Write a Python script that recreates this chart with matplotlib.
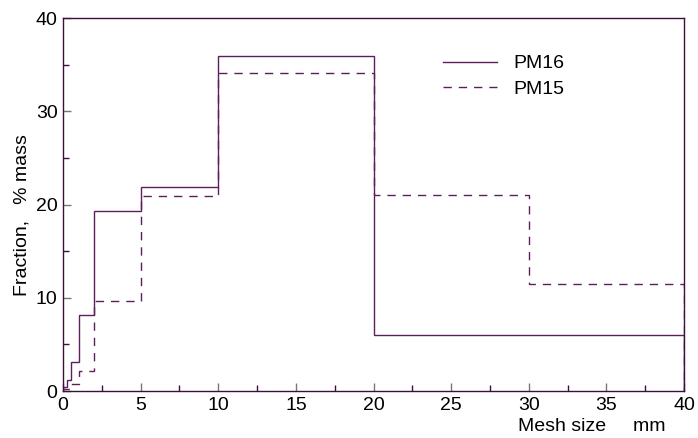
import matplotlib.pyplot as plt
from matplotlib.ticker import MultipleLocator

plt.rcParams['font.family'] = ['Liberation Sans', 'DejaVu Sans']

# bin edges (mm) and mass fractions (%)
edges_pm16 = [0, 0.25, 0.5, 1, 2, 5, 10, 20, 40]
frac_pm16 = [0.4, 1.2, 3.1, 8.1, 19.3, 21.9, 35.9, 6.0]

edges_pm15 = [0, 0.5, 1, 2, 5, 10, 20, 30, 40]
frac_pm15 = [0.2, 0.8, 2.1, 9.6, 20.9, 34.1, 21.0, 11.5]

line_col = '#5c1f5c'
spine_col = '#3d0f3d'

fig = plt.figure(figsize=(6.98, 4.38), dpi=100)
ax = fig.add_axes([0.0903, 0.1073, 0.8897, 0.8516])

ax.stairs(frac_pm16, edges_pm16, baseline=0, color=line_col, lw=1.0, label='PM16')
ax.stairs(frac_pm15, edges_pm15, baseline=0, color=line_col, lw=1.0,
          linestyle=(0, (6, 5)), label='PM15')

ax.set_xlim(0, 40)
ax.set_ylim(0, 40)
ax.xaxis.set_major_locator(MultipleLocator(5))
ax.xaxis.set_minor_locator(MultipleLocator(2.5))
ax.yaxis.set_major_locator(MultipleLocator(10))
ax.yaxis.set_minor_locator(MultipleLocator(5))
ax.tick_params(which='major', direction='in', length=6, width=1, color='#777777',
               labelsize=14, pad=4)
ax.tick_params(which='minor', direction='in', length=4, width=1, color=spine_col)
for s in ax.spines.values():
    s.set_color(spine_col)
    s.set_linewidth(1.0)

fig.text(0.031, 0.51, 'Fraction,   % mass', rotation=90, fontsize=14,
         ha='center', va='center')
fig.text(0.953, 0.027, 'Mesh size     mm', fontsize=14, ha='right', va='center')

ax.legend(loc='upper left', bbox_to_anchor=(0.621, 0.897), bbox_transform=fig.transFigure,
          frameon=False, fontsize=14, handlelength=2.75, handletextpad=0.85,
          labelspacing=0.4, borderpad=0)

fig.savefig('out.png', dpi=100)
